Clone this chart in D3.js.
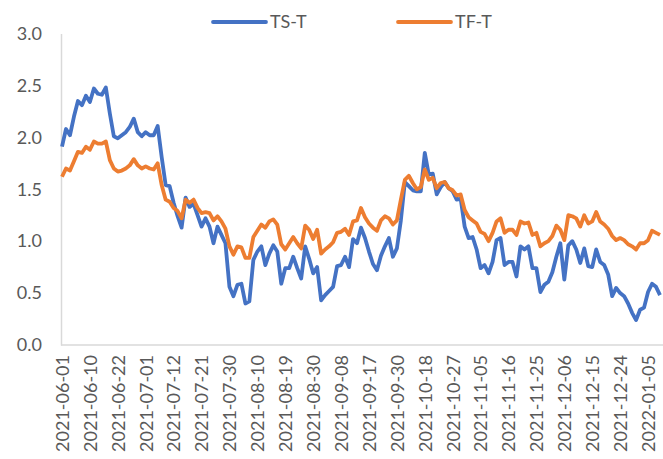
<!DOCTYPE html>
<html>
<head>
<meta charset="utf-8">
<script src="https://cdn.jsdelivr.net/npm/d3@7"></script>
<style>
	body { margin: 0; background: #fff; }
	svg text { font-family: Lato, "Open Sans", sans-serif; fill: #595959; }
</style>
</head>
<body>
<div id="chart"></div>
<script>
// trading days
var dates = [
	'2021-06-01','2021-06-02','2021-06-03','2021-06-04','2021-06-07','2021-06-08','2021-06-09','2021-06-10','2021-06-11','2021-06-15',
	'2021-06-16','2021-06-17','2021-06-18','2021-06-21','2021-06-22','2021-06-23','2021-06-24','2021-06-25','2021-06-28','2021-06-29',
	'2021-06-30','2021-07-01','2021-07-02','2021-07-05','2021-07-06','2021-07-07','2021-07-08','2021-07-09','2021-07-12','2021-07-13',
	'2021-07-14','2021-07-15','2021-07-16','2021-07-19','2021-07-20','2021-07-21','2021-07-22','2021-07-23','2021-07-26','2021-07-27',
	'2021-07-28','2021-07-29','2021-07-30','2021-08-02','2021-08-03','2021-08-04','2021-08-05','2021-08-06','2021-08-09','2021-08-10',
	'2021-08-11','2021-08-12','2021-08-13','2021-08-16','2021-08-17','2021-08-18','2021-08-19','2021-08-20','2021-08-23','2021-08-24',
	'2021-08-25','2021-08-26','2021-08-27','2021-08-30','2021-08-31','2021-09-01','2021-09-02','2021-09-03','2021-09-06','2021-09-07',
	'2021-09-08','2021-09-09','2021-09-10','2021-09-13','2021-09-14','2021-09-15','2021-09-16','2021-09-17','2021-09-22','2021-09-23',
	'2021-09-24','2021-09-27','2021-09-28','2021-09-29','2021-09-30','2021-10-08','2021-10-11','2021-10-12','2021-10-13','2021-10-14',
	'2021-10-15','2021-10-18','2021-10-19','2021-10-20','2021-10-21','2021-10-22','2021-10-25','2021-10-26','2021-10-27','2021-10-28',
	'2021-10-29','2021-11-01','2021-11-02','2021-11-03','2021-11-04','2021-11-05','2021-11-08','2021-11-09','2021-11-10','2021-11-11',
	'2021-11-12','2021-11-15','2021-11-16','2021-11-17','2021-11-18','2021-11-19','2021-11-22','2021-11-23','2021-11-24','2021-11-25',
	'2021-11-26','2021-11-29','2021-11-30','2021-12-01','2021-12-02','2021-12-03','2021-12-06','2021-12-07','2021-12-08','2021-12-09',
	'2021-12-10','2021-12-13','2021-12-14','2021-12-15','2021-12-16','2021-12-17','2021-12-20','2021-12-21','2021-12-22','2021-12-23',
	'2021-12-24','2021-12-27','2021-12-28','2021-12-29','2021-12-30','2021-12-31','2022-01-04','2022-01-05','2022-01-06','2022-01-07',
	'2022-01-10'
];

var tsT = [
	1.91,2.08,2.02,2.20,2.35,2.31,2.40,2.34,2.47,2.42,2.41,2.48,2.23,2.01,1.99,2.02,2.05,2.10,2.18,2.05,
	2.01,2.05,2.02,2.02,2.11,1.81,1.54,1.53,1.37,1.24,1.13,1.42,1.33,1.36,1.25,1.14,1.22,1.14,0.98,1.14,
	1.06,0.98,0.56,0.47,0.58,0.59,0.40,0.42,0.82,0.90,0.95,0.77,0.88,0.96,0.90,0.59,0.74,0.74,0.85,0.74,
	0.64,0.95,0.83,0.69,0.75,0.43,0.48,0.52,0.56,0.76,0.77,0.85,0.75,1.02,0.98,1.13,1.03,0.90,0.78,0.72,
	0.86,0.95,1.03,0.85,0.93,1.20,1.57,1.53,1.49,1.48,1.48,1.85,1.64,1.65,1.45,1.52,1.57,1.51,1.48,1.40,
	1.41,1.14,1.03,1.04,0.92,0.74,0.77,0.69,0.80,1.01,1.03,0.77,0.80,0.80,0.66,0.95,0.92,0.95,0.74,0.74,
	0.51,0.58,0.61,0.70,0.85,0.98,0.63,0.96,1.00,0.92,0.79,0.93,0.76,0.75,0.92,0.80,0.77,0.68,0.47,0.55,
	0.50,0.47,0.40,0.31,0.24,0.34,0.36,0.51,0.59,0.56,0.48
];

var tfT = [
	1.62,1.70,1.68,1.77,1.86,1.85,1.91,1.88,1.96,1.94,1.94,1.96,1.78,1.70,1.67,1.68,1.70,1.73,1.79,1.73,
	1.70,1.72,1.70,1.69,1.75,1.54,1.40,1.38,1.32,1.29,1.22,1.40,1.37,1.40,1.32,1.27,1.28,1.27,1.20,1.24,
	1.19,1.12,0.95,0.87,0.95,0.94,0.84,0.84,1.04,1.10,1.16,1.13,1.19,1.21,1.16,0.97,0.92,0.98,1.04,0.98,
	0.93,1.15,1.11,1.02,1.11,0.88,0.92,0.95,0.99,1.08,1.09,1.12,1.06,1.19,1.20,1.32,1.23,1.17,1.13,1.10,
	1.20,1.24,1.22,1.16,1.20,1.40,1.59,1.63,1.56,1.50,1.52,1.69,1.59,1.61,1.51,1.56,1.57,1.51,1.49,1.44,
	1.45,1.30,1.23,1.20,1.17,1.09,1.07,1.00,1.08,1.19,1.22,1.08,1.11,1.11,1.06,1.19,1.17,1.18,1.06,1.08,
	0.95,0.98,1.00,1.05,1.15,1.11,1.01,1.25,1.24,1.22,1.14,1.25,1.17,1.19,1.28,1.19,1.16,1.12,1.05,1.01,
	1.03,1.01,0.97,0.95,0.92,0.98,0.98,1.01,1.10,1.08,1.06
];

var yTicks = [0, 0.5, 1.0, 1.5, 2.0, 2.5, 3.0];

var series = [
	{ name: 'TS-T', values: tsT, color: '#4472C4' },
	{ name: 'TF-T', values: tfT, color: '#ED7D31' }
];

var width = 663,
	height = 459,
	margin = { top: 33.5, right: 3, bottom: 114, left: 62 },
	labelEvery = 7,
	fontSize = '18px';

var svg = d3.select('#chart')
	.append('svg')
		.attr('width', width)
		.attr('height', height);

var x = d3.scalePoint()
	.domain(dates)
	.range([margin.left, width - margin.right]);

var y = d3.scaleLinear()
	.domain([0, 3])
	.range([height - margin.bottom, margin.top]);

/* AXES */
var yAxis = svg.append('g')
	.attr('transform', 'translate(' + (margin.left - 1) + ',0)')
	.call(d3.axisLeft(y).tickValues(yTicks).tickSize(0).tickPadding(19).tickFormat(d3.format('.1f')));
yAxis.select('.domain').attr('stroke', '#D9D9D9').attr('stroke-width', 1.5);
yAxis.selectAll('text').style('font-size', fontSize);

var xAxis = svg.append('g')
	.attr('transform', 'translate(0,' + y(0) + ')')
	.call(d3.axisBottom(x)
		.tickValues(dates.filter(function (d, i) { return i % labelEvery === 0; }))
		.tickSize(0));
xAxis.select('.domain')
	.attr('d', 'M' + (margin.left - 1) + ',0H' + width)
	.attr('stroke', '#D9D9D9').attr('stroke-width', 1.5);
xAxis.selectAll('text')
	.style('font-size', fontSize)
	.attr('text-anchor', 'end')
	.attr('dy', '0.35em')
	.attr('transform', 'translate(0,10) rotate(-90)')
	.attr('x', 0)
	.attr('y', 0);

// Lines
var line = d3.line()
	.x(function (d, i) { return x(dates[i]); })
	.y(function (d) { return y(d); });

svg.selectAll('.series')
	.data(series)
	.enter()
	.append('path')
		.attr('class', 'series')
		.attr('fill', 'none')
		.attr('stroke', function (d) { return d.color; })
		.attr('stroke-width', 3.8)
		.attr('stroke-linejoin', 'round')
		.attr('d', function (d) { return line(d.values); });

// Legend
var legend = svg.selectAll('.legend')
	.data(series)
	.enter()
	.append('g')
		.attr('class', 'legend')
		.attr('transform', function (d, i) { return 'translate(' + (213 + i * 185) + ',22)'; });

legend.append('line')
	.attr('x1', 0).attr('x2', 53)
	.attr('stroke', function (d) { return d.color; })
	.attr('stroke-width', 3.8)
	.attr('stroke-linecap', 'round');

legend.append('text')
	.attr('x', 57)
	.attr('dy', '0.35em')
	.style('font-size', fontSize)
	.text(function (d) { return d.name; });
</script>
</body>
</html>
